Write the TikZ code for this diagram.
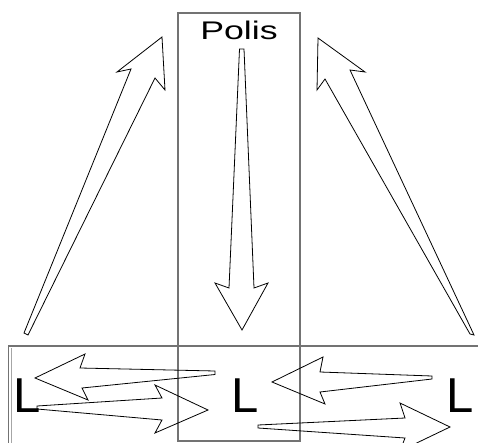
\documentclass[tikz,border=0pt]{standalone}
\usepackage{fontspec}
\setmainfont{Liberation Sans}
\tikzset{
  frame/.style={draw=black!55, line width=1.1pt},
  fatarrow/.style={draw=black, line width=0.8pt, line join=miter},
  letter/.style={inner sep=0pt, anchor=base, font=\fontsize{49}{49}\selectfont},
}
\begin{document}
\begin{tikzpicture}[x=1pt, y=-1pt]
  \useasboundingbox (0,0) rectangle (478,443);
  \clip (0,0) rectangle (478,443);

  % Frames
  \draw[frame] (178,13) rectangle (300,441);   % (polis column)
  \draw[frame] (8.5,346) rectangle (490,460);  % (local row)
  \draw[black!35, line width=0.6pt] (11.7,348) -- (11.7,443);

  % Labels
  \node[inner sep=0pt, anchor=base, font=\fontsize{25.5}{25.5}\selectfont] (polis) at (239,40) {\scalebox{1.4}[1]{Polis}};
  \node[letter] (lleft) at (27,412) {L};
  \node[letter] (lmid) at (245,412) {L};
  \node[letter] (lright) at (460,412) {L};

  % Upward arrows (to the polis)
  \draw[fatarrow] (24,333) -- (131,69) -- (117,72) -- (162,37) -- (165,90) -- (155,78) -- (28,335) -- cycle;
  \draw[fatarrow] (474,335) -- (350,70) -- (365,72) -- (318,38) -- (317,90) -- (325,79) -- (470,334) -- cycle;

  % Downward arrow (from the polis)
  \draw[fatarrow] (239.5,49) -- (229,288) -- (215,283) -- (242,330) -- (268,283) -- (254,288) -- (244,49) -- cycle;

  % Arrows between the L's
  \draw[fatarrow] (215,371) -- (80,368) -- (85,354) -- (35,378) -- (88,400) -- (82,388) -- (215,374.5) -- cycle;
  \draw[fatarrow] (37,406) -- (162,398) -- (155,385) -- (208,410) -- (155,433) -- (162,420) -- (37,409) -- cycle;
  \draw[fatarrow] (432,376) -- (320,372) -- (323,357) -- (272,382) -- (325,404) -- (320,392) -- (432,379) -- cycle;
  \draw[fatarrow] (258,425) -- (405,418) -- (400,403) -- (450,427) -- (400,451) -- (405,438) -- (258,428) -- cycle;
\end{tikzpicture}
\end{document}
